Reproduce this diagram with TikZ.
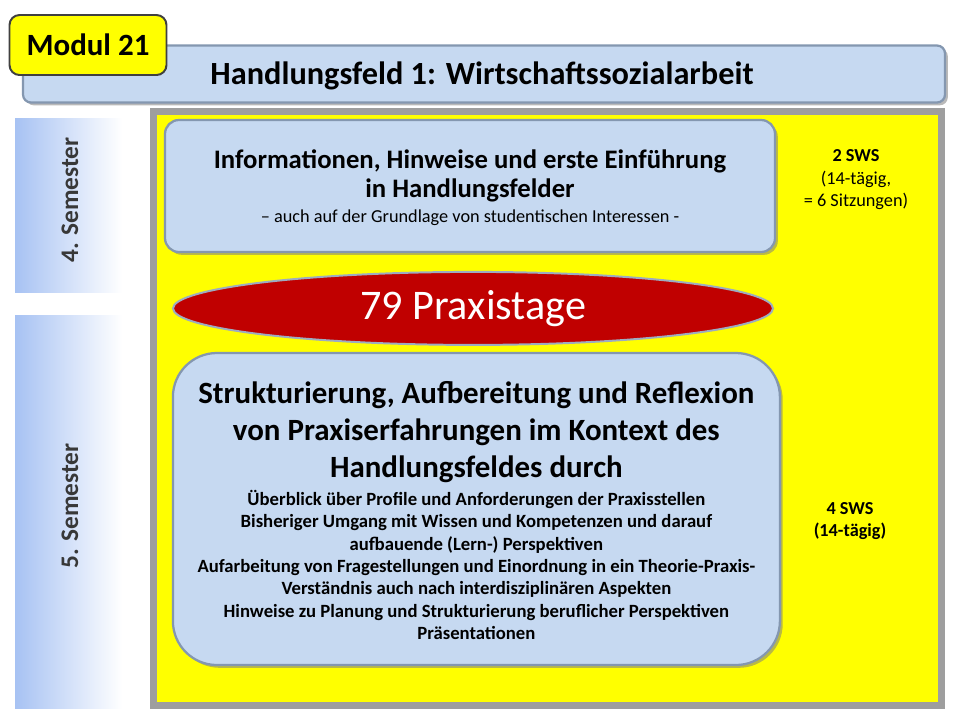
\documentclass[tikz,border=0pt]{standalone}
\usepackage{fontspec}
\setmainfont{Carlito}
\usetikzlibrary{shapes.geometric,shadows}
\definecolor{boxblue}{HTML}{C6D9F1}
\definecolor{boxrim}{HTML}{8497B0}
\definecolor{praxisred}{HTML}{C00000}
\definecolor{semblue}{HTML}{A7C2F3}
\definecolor{panelyellow}{RGB}{255,255,0}
\begin{document}
\begin{tikzpicture}[
    shade box/.style={drop shadow={shadow xshift=2pt, shadow yshift=-2pt, opacity=0.55}},
    semester/.style={shading=axis, left color=semblue, right color=white, shading angle=90},
    infobox/.style={shade box, fill=boxblue, draw=boxrim, line width=1.6pt, inner sep=0pt},
    semtext/.style={rotate=90, text=black!78, font=\fontsize{18}{21}\selectfont\bfseries},
    sidetext/.style={align=center, font=\fontsize{13}{16}\selectfont}
]
    \useasboundingbox (0,0) rectangle (24,-18);
    \fill[white] (0,0) rectangle (24,-18);
    % title bar and module tag
    \node[infobox, rounded corners=0.2cm, minimum width=23.05cm, minimum height=1.425cm] (titel) at (12.1,-1.85) {};
    \node[font=\fontsize{23}{27}\selectfont\bfseries] (titeltext) at (12.05,-1.9) {Handlungsfeld 1: Wirtschaftssozialarbeit};
    \node[fill=panelyellow, draw=black!75, line width=1.4pt, rounded corners=0.25cm, minimum width=3.925cm, minimum height=1.5cm, font=\fontsize{22}{26}\selectfont\bfseries] (modul) at (2.2,-1.125) {Modul 21};
    % semester bars
    \shade[semester] (0.375,-2.95) rectangle (3.05,-7.3);
    \shade[semester] (0.375,-7.875) rectangle (3.05,-17.7);
    \node[semtext] (sem4) at (1.75,-5.0) {4. Semester};
    \node[semtext] (sem5) at (1.75,-12.65) {5. Semester};
    % yellow panel
    \draw[fill=panelyellow, draw=black!38, line width=0.16cm, shade box] (3.84,-2.79) rectangle (23.54,-17.64);
    % top box
    \node[infobox, rounded corners=0.35cm, minimum width=15.25cm, minimum height=3.3cm] (einf) at (11.75,-4.65) {};
    \node[align=center, font=\fontsize{19}{20.6}\selectfont\bfseries] (einftext) at (11.75,-4.39)
        {Informationen, Hinweise und erste Einführung\\in Handlungsfelder};
    \node[font=\fontsize{13}{16}\selectfont] (einfnote) at (11.75,-5.45)
        {– auch auf der Grundlage von studentischen Interessen -};
    % praxis days
    \node[ellipse, fill=praxisred, draw=boxrim!80, line width=1.4pt, minimum width=15cm, minimum height=1.825cm, inner sep=0pt, text=white, font=\fontsize{30}{34}\selectfont] (praxis) at (11.825,-7.71) {79 Praxistage};
    % bottom box
    \node[infobox, rounded corners=1.1cm, minimum width=15.175cm, minimum height=7.8cm] (reflex) at (11.91,-12.725) {};
    \node[align=center, font=\fontsize{22}{26.3}\selectfont\bfseries] (reflextitel) at (11.91,-10.8)
        {Strukturierung, Aufbereitung und Reflexion\\
         von Praxiserfahrungen im Kontext des\\
         Handlungsfeldes durch};
    \node[align=center, font=\fontsize{13.3}{15.9}\selectfont\bfseries] (reflexliste) at (11.91,-14.125)
        {Überblick über Profile und Anforderungen der Praxisstellen\\
         Bisheriger Umgang mit Wissen und Kompetenzen und darauf\\
         aufbauende (Lern-) Perspektiven\\
         Aufarbeitung von Fragestellungen und Einordnung in ein Theorie-Praxis-\\
         Verständnis auch nach interdisziplinären Aspekten\\
         Hinweise zu Planung und Strukturierung beruflicher Perspektiven\\
         Präsentationen};
    % hours per week
    \node[sidetext] (sws2) at (21.4,-4.5) {\textbf{2 SWS}\\(14-tägig,\\= 6 Sitzungen)};
    \node[sidetext, font=\fontsize{13}{16}\selectfont\bfseries] (sws4) at (21.25,-13.02) {4 SWS\\(14-tägig)};
\end{tikzpicture}
\end{document}
